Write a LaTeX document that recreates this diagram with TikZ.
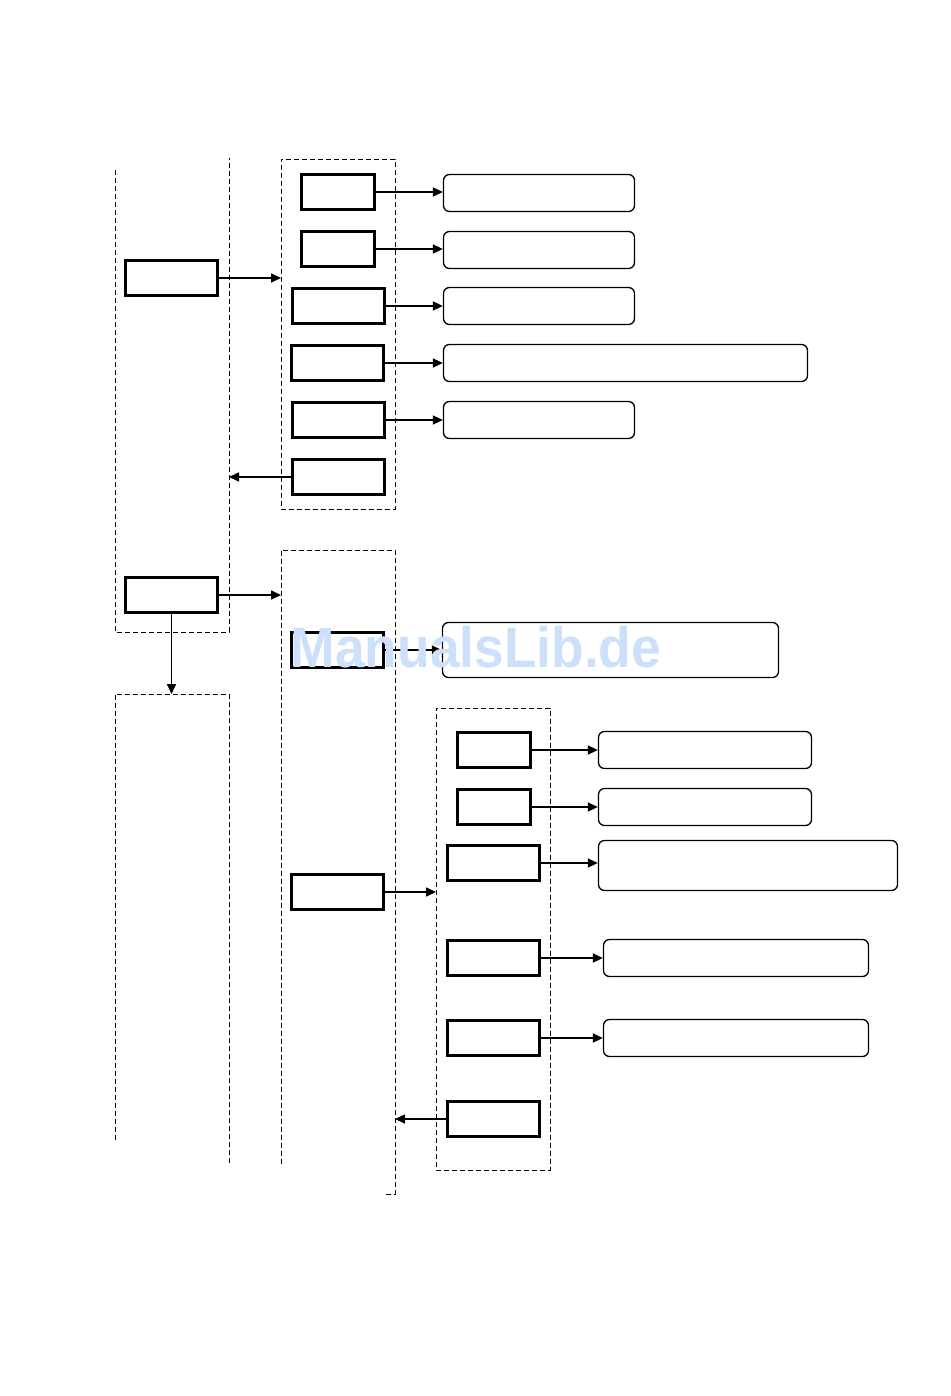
\documentclass[tikz,border=0pt]{standalone}
\usepackage{fontspec}
\usetikzlibrary{arrows.meta}
\definecolor{wm}{RGB}{204,224,250}
\begin{document}
\begin{tikzpicture}[x=1pt,y=-1pt,
  tbox/.style={draw,line width=3pt,minimum width=73pt,minimum height=35pt,inner sep=0pt},
  wbox/.style={tbox,minimum width=92pt},
  rbox/.style={draw,line width=1.3pt,rounded corners=6pt,inner sep=0pt,minimum height=37pt},
  frame/.style={draw,line width=0.9pt,dash pattern=on 5pt off 3pt},
  framebox/.style={frame,inner sep=0pt,outer sep=0pt},
  conn/.style={line width=1.6pt,-{Triangle[length=10pt,width=9pt]}}]
\fill[white] (0,0) rectangle (950,1396);
\useasboundingbox (0,0) rectangle (950,1396);

% open frames
\draw[frame] (115,170) -- (115,632) -- (229,632) -- (229,158);
\draw[frame] (115,1140) -- (115,694) -- (229,694) -- (229,1164);
\draw[frame] (281,1164) -- (281,550) -- (395,550) -- (395,1194) -- (386,1194);
\coordinate (Aedge) at (229,400);
\coordinate (Btop) at (172,694);
\coordinate (Mleft) at (281,600);
\coordinate (Mright) at (395,900);

% closed frames
\node[framebox,minimum width=114pt,minimum height=350pt] (M1) at (338,334) {};
\node[framebox,minimum width=114pt,minimum height=462pt] (M3) at (493,939) {};

% left boxes
\node[wbox] (L1) at (171.5,278) {};
\node[wbox] (L2) at (171.5,595) {};

% first group
\node[tbox] (m1) at (338,192) {};
\node[tbox] (m2) at (338,249) {};
\node[wbox] (m3) at (338,306) {};
\node[wbox] (m4) at (337.5,363) {};
\node[wbox] (m5) at (338,420) {};
\node[wbox] (m6) at (338,477) {};

\node[rbox,minimum width=191pt] (r1) at (539,193) {};
\node[rbox,minimum width=191pt] (r2) at (539,250) {};
\node[rbox,minimum width=191pt] (r3) at (539,306) {};
\node[rbox,minimum width=364pt] (r4) at (625.5,363) {};
\node[rbox,minimum width=191pt] (r5) at (539,420) {};

% second group
\node[wbox] (n1) at (337,650) {};
\node[wbox] (n2) at (337,892) {};
\node[rbox,minimum width=336pt,minimum height=55pt] (r6) at (610.5,650) {};

\node[tbox] (p1) at (494,750) {};
\node[tbox] (p2) at (494,807) {};
\node[wbox] (p3) at (493.5,863) {};
\node[wbox] (p4) at (493.5,958) {};
\node[wbox] (p5) at (493.5,1038) {};
\node[wbox] (p6) at (493.5,1119) {};

\node[rbox,minimum width=213pt] (q1) at (705,750) {};
\node[rbox,minimum width=213pt] (q2) at (705,807) {};
\node[rbox,minimum width=299pt,minimum height=50pt] (q3) at (748,865.5) {};
\node[rbox,minimum width=265pt] (q4) at (736,958) {};
\node[rbox,minimum width=265pt] (q5) at (736,1038) {};

% connectors
\draw[conn] (L1.east) -- (L1.east -| M1.west);
\draw[conn] (m1.east) -- (r1.west |- m1.east);
\draw[conn] (m2.east) -- (r2.west |- m2.east);
\draw[conn] (m3.east) -- (r3.west |- m3.east);
\draw[conn] (m4.east) -- (r4.west |- m4.east);
\draw[conn] (m5.east) -- (r5.west |- m5.east);
\draw[conn] (m6.west) -- (m6.west -| Aedge);
\draw[conn] (L2.east) -- (L2.east -| Mleft);
\draw[conn] (L2.south) -- (L2.south |- Btop);
\draw[conn] (n1.east) -- (r6.west);
\draw[conn] (n2.east) -- (n2.east -| M3.west);
\draw[conn] (p1.east) -- (q1.west |- p1.east);
\draw[conn] (p2.east) -- (q2.west |- p2.east);
\draw[conn] (p3.east) -- (q3.west |- p3.east);
\draw[conn] (p4.east) -- (q4.west |- p4.east);
\draw[conn] (p5.east) -- (q5.west |- p5.east);
\draw[conn] (p6.west) -- (p6.west -| Mright);

% watermark
\node[text=wm,inner sep=0pt,anchor=base,xscale=0.935,font=\fontspec{Liberation Sans}\bfseries\fontsize{57}{57}\selectfont] (wmk) at (476,667) {ManualsLib.de};
\end{tikzpicture}
\end{document}
